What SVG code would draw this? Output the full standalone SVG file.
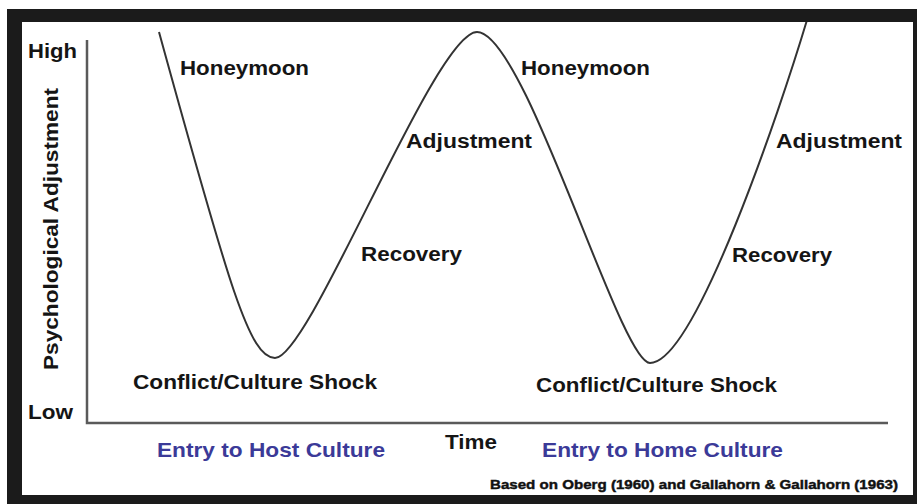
<svg xmlns="http://www.w3.org/2000/svg" width="917" height="504" viewBox="0 0 917 504">
<style>
.lbl{font-family:"Liberation Sans",Arial,Helvetica,sans-serif;font-weight:bold;font-size:20px;fill:#151515}
.big{font-size:21px}
.blue{fill:#3b3a98;font-size:21px}
.src{font-size:13.5px;fill:#111;stroke:#111;stroke-width:0.45}
.axis{fill:none;stroke:#5a5a5a;stroke-width:2.5}
.curve{fill:none;stroke:#333;stroke-width:2}
</style>
<rect x="0" y="0" width="917" height="504" fill="#fff"/>
<g id="curve">
<path class="curve" d="M159,32 C230,290 250,358 275,358 C310,358 435,32 477,32 C525,32 620,363 650,363 C695,363 780,110 807,20"/>
</g>
<g id="axes">
<polyline class="axis" points="87,40 87,423 888,423"/>
</g>
<g id="frame">
<path fill="#1b1b1b" fill-rule="evenodd" d="M7,9 H917 V504 H7 Z M22,22 V495 H913 V22 Z"/>
</g>
<g id="axis-labels">
<text class="lbl big" x="28" y="58" textLength="49" lengthAdjust="spacingAndGlyphs">High</text>
<text class="lbl big" x="28" y="419" textLength="45" lengthAdjust="spacingAndGlyphs">Low</text>
<text class="lbl" transform="translate(58,370) rotate(-90)" x="0" y="0" textLength="282" lengthAdjust="spacingAndGlyphs">Psychological Adjustment</text>
<text class="lbl big" x="445" y="449" textLength="52" lengthAdjust="spacingAndGlyphs">Time</text>
</g>
<g id="stage-labels">
<text class="lbl" x="180" y="75" textLength="129" lengthAdjust="spacingAndGlyphs">Honeymoon</text>
<text class="lbl" x="521" y="75" textLength="129" lengthAdjust="spacingAndGlyphs">Honeymoon</text>
<text class="lbl" x="406" y="148" textLength="126" lengthAdjust="spacingAndGlyphs">Adjustment</text>
<text class="lbl" x="776" y="148" textLength="126" lengthAdjust="spacingAndGlyphs">Adjustment</text>
<text class="lbl" x="361" y="261" textLength="101" lengthAdjust="spacingAndGlyphs">Recovery</text>
<text class="lbl" x="732" y="262" textLength="100" lengthAdjust="spacingAndGlyphs">Recovery</text>
<text class="lbl big" x="133" y="389" textLength="244" lengthAdjust="spacingAndGlyphs">Conflict/Culture Shock</text>
<text class="lbl big" x="536" y="392" textLength="241" lengthAdjust="spacingAndGlyphs">Conflict/Culture Shock</text>
</g>
<g id="entry-labels">
<text class="lbl blue" x="157" y="457" textLength="228" lengthAdjust="spacingAndGlyphs">Entry to Host Culture</text>
<text class="lbl blue" x="542" y="457" textLength="241" lengthAdjust="spacingAndGlyphs">Entry to Home Culture</text>
</g>
<g id="source">
<text class="lbl src" x="490" y="489" textLength="408" lengthAdjust="spacingAndGlyphs">Based on Oberg (1960) and Gallahorn &amp; Gallahorn (1963)</text>
</g>
</svg>
